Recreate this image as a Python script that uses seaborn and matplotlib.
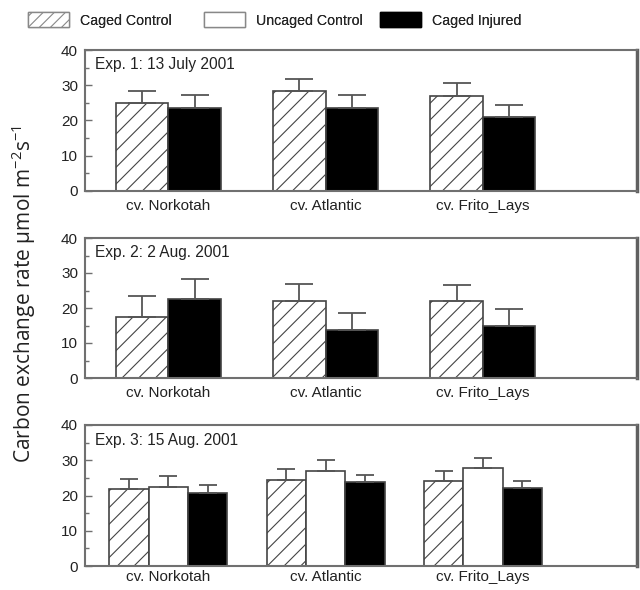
import matplotlib
matplotlib.use("Agg")
import matplotlib.pyplot as plt
import seaborn as sns
import pandas as pd
import numpy as np
from matplotlib.patches import Patch

sns.set_style("white")
plt.rcParams['font.family'] = ['Liberation Sans', 'DejaVu Sans']
plt.rcParams['mathtext.fontset'] = 'custom'
plt.rcParams['mathtext.rm'] = 'Open Sans'
plt.rcParams['mathtext.it'] = 'Open Sans:italic'
plt.rcParams['mathtext.bf'] = 'Open Sans:bold'
plt.rcParams['hatch.linewidth'] = 0.8

cultivars = ["cv. Norkotah", "cv. Atlantic", "cv. Frito_Lays"]
treatments = ["Caged Control", "Uncaged Control", "Caged Injured"]
panel_titles = ["Exp. 1: 13 July 2001", "Exp. 2: 2 Aug. 2001", "Exp. 3: 15 Aug. 2001"]

# Exp 1
exp1_caged_control = [25.0, 28.4, 26.9]
exp1_caged_control_err = [3.4, 3.4, 3.8]
exp1_caged_injured = [23.6, 23.6, 20.9]
exp1_caged_injured_err = [3.6, 3.6, 3.5]
# Exp 2
exp2_caged_control = [17.5, 22.0, 22.0]
exp2_caged_control_err = [6.0, 4.8, 4.6]
exp2_caged_injured = [22.5, 13.7, 14.8]
exp2_caged_injured_err = [5.9, 4.8, 4.9]
# Exp 3
exp3_caged_control = [21.8, 24.4, 24.1]
exp3_caged_control_err = [2.8, 3.0, 2.9]
exp3_uncaged_control = [22.5, 27.0, 27.7]
exp3_uncaged_control_err = [3.0, 3.0, 3.0]
exp3_caged_injured = [20.8, 23.7, 22.0]
exp3_caged_injured_err = [2.1, 2.1, 2.2]

y_ticks = [0, 10, 20, 30, 40]

panels = [
    {"Caged Control": (exp1_caged_control, exp1_caged_control_err),
     "Caged Injured": (exp1_caged_injured, exp1_caged_injured_err)},
    {"Caged Control": (exp2_caged_control, exp2_caged_control_err),
     "Caged Injured": (exp2_caged_injured, exp2_caged_injured_err)},
    {"Caged Control": (exp3_caged_control, exp3_caged_control_err),
     "Uncaged Control": (exp3_uncaged_control, exp3_uncaged_control_err),
     "Caged Injured": (exp3_caged_injured, exp3_caged_injured_err)},
]

styles = {
    "Caged Control": dict(fc="white", hatch="//"),
    "Uncaged Control": dict(fc="white", hatch=None),
    "Caged Injured": dict(fc="black", hatch=None),
}
palette = {"Caged Control": "white", "Uncaged Control": "white", "Caged Injured": "black"}

W, H = 640, 590
fig = plt.figure(figsize=(6.4, 5.9), dpi=100)

boxes = [(50, 190.7), (238, 378), (425, 566)]
xpads = [6, 6, 3]
left_px, right_px = 85, 637
edge = "#444444"
spine_c = "#707070"

for i, (pdata, (top, bot)) in enumerate(zip(panels, boxes)):
    ax = fig.add_axes([left_px / W, 1 - bot / H, (right_px - left_px) / W, (bot - top) / H])
    rows = []
    order = [t for t in treatments if t in pdata]
    for t in order:
        vals, errs = pdata[t]
        for c, v, e in zip(cultivars, vals, errs):
            rows.append({"cultivar": c, "treatment": t, "value": v, "err": e})
    df = pd.DataFrame(rows)
    width = 0.667 if len(order) == 2 else 0.75
    sns.barplot(data=df, x="cultivar", y="value", hue="treatment", order=cultivars,
                hue_order=order, palette=palette, width=width, errorbar=None,
                edgecolor=edge, linewidth=1.2, legend=False, ax=ax)
    capsize = 10 if len(order) == 2 else 6.5
    for cont, t in zip(ax.containers, order):
        vals, errs = pdata[t]
        xs, ys = [], []
        for p in cont.patches:
            if styles[t]["hatch"]:
                p.set_hatch(styles[t]["hatch"])
            p.set_edgecolor(edge)
            xs.append(p.get_x() + p.get_width() / 2)
            ys.append(p.get_height())
        ax.errorbar(xs, ys, yerr=[np.zeros(len(errs)), errs], fmt="none",
                    ecolor="#555555", elinewidth=1.3, capsize=capsize, capthick=1.3, zorder=1)
    ax.set_xlim(-0.53, 2.98)
    ax.set_ylim(0, 40)
    ax.set_yticks(y_ticks)
    ax.set_yticks([5, 15, 25, 35], minor=True)
    ax.set_xlabel("")
    ax.set_ylabel("")
    ax.tick_params(axis="y", which="major", direction="in", length=5, width=1,
                   color=spine_c, labelsize=11, pad=5, left=True, labelcolor="#222222")
    ax.tick_params(axis="y", which="minor", direction="in", length=3, width=1,
                   color=spine_c, left=True)
    ax.tick_params(axis="x", length=0, labelsize=11, pad=xpads[i], labelcolor="#222222")
    for s in ["left", "top", "bottom"]:
        ax.spines[s].set_color(spine_c)
        ax.spines[s].set_linewidth(1.5)
    ax.spines["right"].set_color("#606060")
    ax.spines["right"].set_linewidth(2.5)
    ax.text(10 / (right_px - left_px), 1 - 15 / (bot - top), panel_titles[i],
            transform=ax.transAxes, ha="left", va="center", fontsize=11.2, color="#222222")

fig.text(24 / W, 1 - 294 / H, r"Carbon exchange rate µmol m$^{-2}$s$^{-1}$",
         rotation=90, ha="center", va="center", fontsize=15, family="Open Sans", color="#222222")

handles = [Patch(facecolor="white", edgecolor="#888888", hatch="///", label="Caged Control"),
           Patch(facecolor="white", edgecolor="#888888", label="Uncaged Control"),
           Patch(facecolor="black", edgecolor="black", label="Caged Injured")]
leg_x = [28, 204, 380]
for h, x in zip(handles, leg_x):
    leg = fig.legend(handles=[h], loc="center left", bbox_to_anchor=(x / W, 1 - 20 / H),
                     frameon=False, fontsize=10.2, handlelength=2.9, handleheight=1.2,
                     handletextpad=0.8, borderaxespad=0, borderpad=0)
    fig.add_artist(leg)

fig.savefig("out.png", dpi=100)
